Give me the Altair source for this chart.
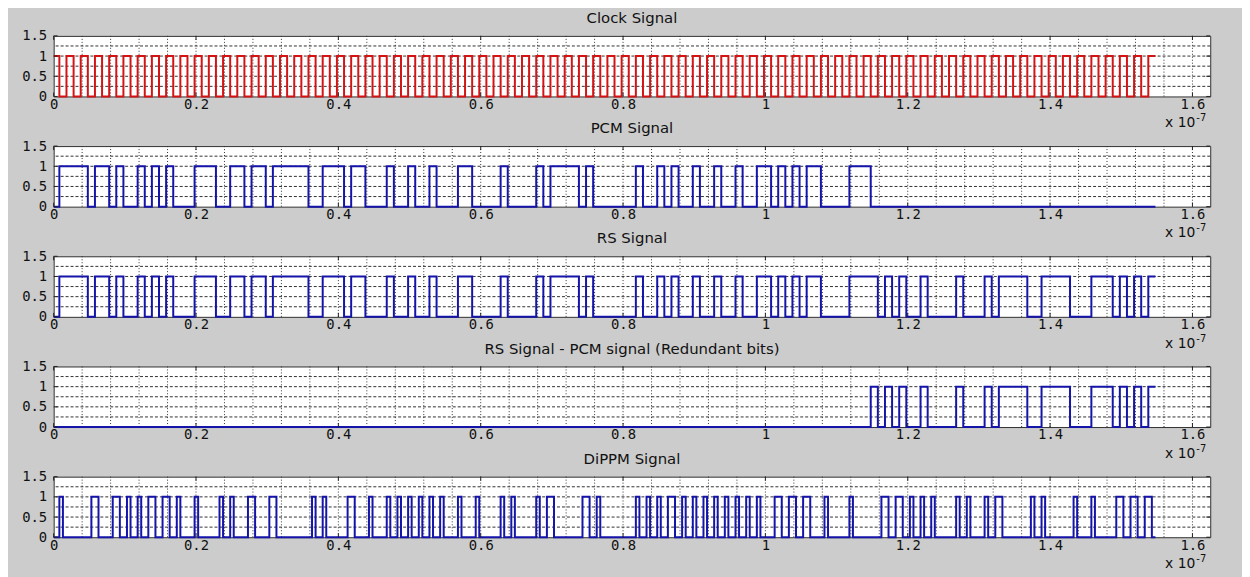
import altair as alt
import pandas as pd

# ---- time base (x axis in units of 1e-7 s) ----
T0 = 0.008          # first bit edge
TB = 0.01           # bit period
X_END = 1.548       # end of the signals
X_MAX = 1.625       # axis limit

X_TICKS = [0, 0.2, 0.4, 0.6, 0.8, 1.0, 1.2, 1.4, 1.6]
Y_TICKS = [0, 0.5, 1, 1.5]
X_GRID = [0.04, 0.08, 0.12, 0.16, 0.2, 0.24, 0.28, 0.32, 0.36, 0.4,
          0.44, 0.48, 0.52, 0.56, 0.6, 0.64, 0.68, 0.72, 0.76, 0.8,
          0.84, 0.88, 0.92, 0.96, 1.0, 1.04, 1.08, 1.12, 1.16, 1.2,
          1.24, 1.28, 1.32, 1.36, 1.4, 1.44, 1.48, 1.52, 1.56, 1.6]
Y_GRID = [0.25, 0.5, 0.75, 1.0, 1.25]

TITLES = ["Clock Signal", "PCM Signal", "RS Signal",
          "RS Signal - PCM signal (Redundant bits)", "DiPPM Signal"]

# level before the first bit edge, then one char per bit
CLOCK_INIT = 1
CLOCK_BITS = ("0101010101" "0101010101" "0101010101" "0101010101" "0101010101"
              "0101010101" "0101010101" "0101010101" "0101010101" "0101010101"
              "0101010101" "0101010101" "0101010101" "0101010101" "0101010101"
              "0101")
PCM_BITS = ("1111011010" "0101010001" "1100110110" "1111100111" "0110001001"
            "0010001100" "0010000101" "1110100000" "0100101001" "0010010011"
            "0101011000" "0111000000" "0000000000" "0000000000" "0000000000"
            "0000")
RS_BITS = ("1111011010" "0101010001" "1100110110" "1111100111" "0110001001"
           "0010001100" "0010000101" "1110100000" "0100101001" "0010010011"
           "0101011000" "0111101010" "0100001000" "1011110011" "1100011101"
           "0101")
RED_BITS = ("0000000000" "0000000000" "0000000000" "0000000000" "0000000000"
            "0000000000" "0000000000" "0000000000" "0000000000" "0000000000"
            "0000000000" "0000101010" "0100001000" "1011110011" "1100011101"
            "0101")
# DiPPM: half-bit slots that carry a pulse
DIPPM_SLOTS = [0, 9, 10, 15, 16, 19, 22, 25, 26, 29, 30, 33, 38, 45, 48, 53, 54,
               59, 60, 71, 74, 81, 82, 87, 92, 95, 98, 101, 104, 107, 112, 117,
               124, 127, 134, 137, 138, 147, 148, 151, 162, 165, 168, 171, 172,
               175, 178, 181, 184, 187, 190, 193, 196, 201, 202, 205, 206, 209,
               210, 215, 222, 231, 232, 235, 236, 239, 242, 245, 252, 255, 260,
               263, 264, 273, 276, 285, 290, 297, 298, 301, 302, 305, 306]
DIPPM_NSLOTS = 308

RED = "#d41414"
BLUE = "#1414aa"

W, H = 1165, 61
LABEL_FONT = "DejaVu Sans Mono"
TITLE_FONT = "DejaVu Sans"


def levels_to_df(init, levels, width):
    ts, vs = [0.0], [init]
    for k, v in enumerate(levels):
        if v != vs[-1]:
            ts.append(round(T0 + k * width, 6))
            vs.append(v)
    ts.append(X_END)
    vs.append(vs[-1])
    return pd.DataFrame({"t": ts, "v": vs})


def bits_df(init, bits):
    return levels_to_df(init, [int(b) for b in bits], TB)


def dippm_df():
    s = set(DIPPM_SLOTS)
    return levels_to_df(0, [1 if h in s else 0 for h in range(DIPPM_NSLOTS)], TB / 2)


xscale = alt.Scale(domain=[0, X_MAX], nice=False, zero=False)
yscale = alt.Scale(domain=[0, 1.5], nice=False)

XAX = alt.Axis(values=X_TICKS, format=".1~f", title=None, ticks=False, grid=False,
               domain=False, labelFont=LABEL_FONT, labelFontSize=14,
               labelColor="#111", labelPadding=1, labelFlush=False)
YAX = alt.Axis(values=Y_TICKS, format="~g", title=None, ticks=False, grid=False,
               domain=False, labelFont=LABEL_FONT, labelFontSize=14,
               labelColor="#111", labelPadding=7)

vgrid_df = pd.DataFrame({"g": X_GRID})
hgrid_df = pd.DataFrame({"g": Y_GRID})
xt_df = pd.DataFrame({"g": X_TICKS})
yt_df = pd.DataFrame({"g": Y_TICKS})


def X(field):
    return alt.X(field, scale=xscale, axis=XAX)


def Y(field):
    return alt.Y(field, scale=yscale, axis=YAX)


def panel(title, df, color):
    line = alt.Chart(df).mark_line(interpolate="step-after", color=color,
                                   strokeWidth=2).encode(x=X("t:Q"), y=Y("v:Q"))
    vgrid = alt.Chart(vgrid_df).mark_rule(color="#303030", strokeWidth=1,
                                          strokeDash=[1, 2]).encode(x=X("g:Q"))
    hgrid = alt.Chart(hgrid_df).mark_rule(color="#303030", strokeWidth=1,
                                          strokeDash=[3, 2]).encode(y=Y("g:Q"))
    xt_bot = alt.Chart(xt_df).mark_rule(color="#202020").encode(
        x=X("g:Q"), y=alt.value(H), y2=alt.value(H - 4))
    xt_top = alt.Chart(xt_df).mark_rule(color="#202020").encode(
        x=X("g:Q"), y=alt.value(0), y2=alt.value(4))
    yt_l = alt.Chart(yt_df).mark_rule(color="#202020").encode(
        y=Y("g:Q"), x=alt.value(0), x2=alt.value(4))
    yt_r = alt.Chart(yt_df).mark_rule(color="#202020").encode(
        y=Y("g:Q"), x=alt.value(W), x2=alt.value(W - 4))
    exp_a = alt.Chart(pd.DataFrame({"s": ["x 10"]})).mark_text(
        align="right", baseline="alphabetic", font=TITLE_FONT, fontSize=14,
        color="#111").encode(x=alt.value(W - 15), y=alt.value(H + 31), text="s:N")
    exp_b = alt.Chart(pd.DataFrame({"s": ["-7"]})).mark_text(
        align="left", baseline="alphabetic", font=TITLE_FONT, fontSize=10,
        color="#111").encode(x=alt.value(W - 14), y=alt.value(H + 25), text="s:N")
    return alt.layer(vgrid, hgrid, line, xt_bot, xt_top, yt_l, yt_r, exp_a, exp_b).properties(
        width=W, height=H,
        title=alt.TitleParams(text=title, font=TITLE_FONT, fontSize=15,
                              fontWeight="normal", color="#111", anchor="middle",
                              baseline="alphabetic", offset=-9))


panels = [
    panel(TITLES[0], bits_df(CLOCK_INIT, CLOCK_BITS), RED),
    panel(TITLES[1], bits_df(0, PCM_BITS), BLUE),
    panel(TITLES[2], bits_df(0, RS_BITS), BLUE),
    panel(TITLES[3], bits_df(0, RED_BITS), BLUE),
    panel(TITLES[4], dippm_df(), BLUE),
]

chart = alt.vconcat(*panels, spacing=50, bounds="flush").properties(
    padding={"left": 13, "top": 0, "right": 31, "bottom": 8}
).configure(background="#cccccc").configure_view(
    fill="white", stroke="#303030", strokeWidth=1)

chart.save("out.html", embed_options={"renderer": "svg", "actions": False})
